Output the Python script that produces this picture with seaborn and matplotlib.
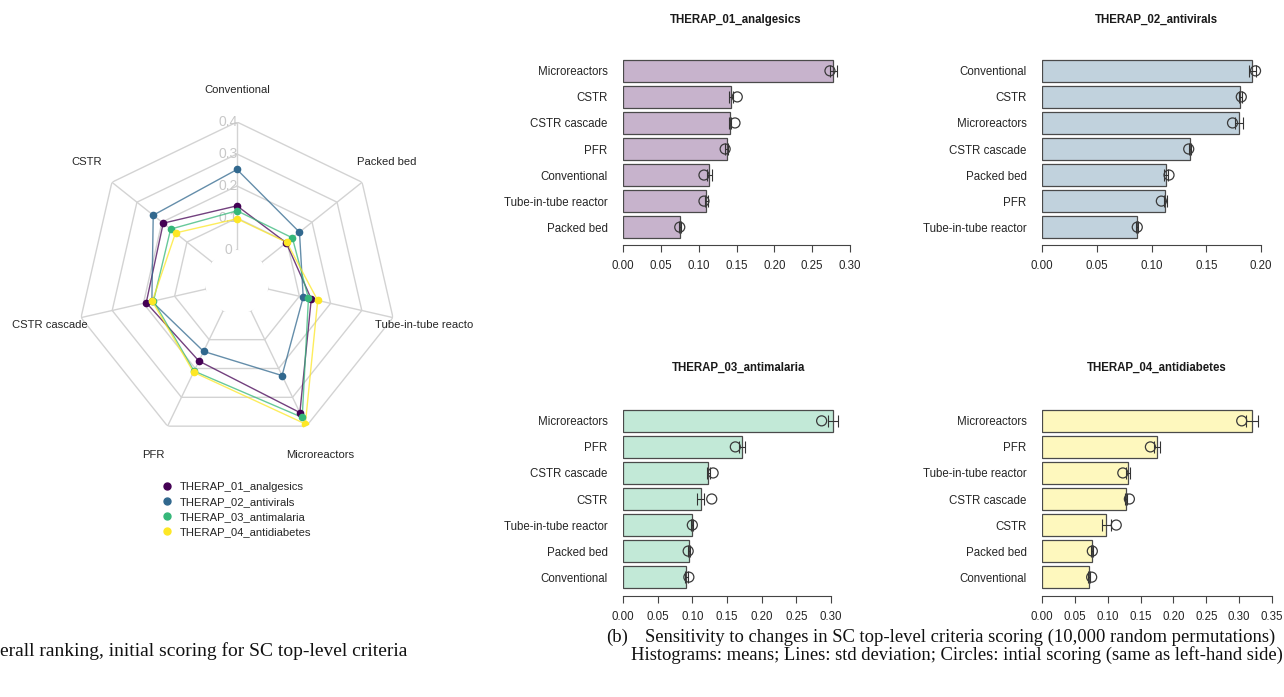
import numpy as np
import pandas as pd
import matplotlib
matplotlib.use("Agg")
import matplotlib.pyplot as plt
import seaborn as sns
from matplotlib.lines import Line2D
from matplotlib.transforms import offset_copy

sns.set_style("white")
plt.rcParams["font.family"] = ["Liberation Sans", "DejaVu Sans"]

# ---------------------------------------------------------------- data
reactors = ["Conventional", "CSTR", "CSTR cascade", "PFR",
            "Microreactors", "Tube-in-tube reactor", "Packed bed"]
radar_labels = ["Conventional", "CSTR", "CSTR cascade", "PFR",
                "Microreactors", "Tube-in-tube reacto", "Packed bed"]
therapies = ["THERAP_01_analgesics", "THERAP_02_antivirals",
             "THERAP_03_antimalaria", "THERAP_04_antidiabetes"]
ring_labels = ["0", "0.1", "0.2", "0.3", "0.4"]

# initial scoring (order of `reactors`)
init_analgesics = [0.107, 0.151, 0.148, 0.135, 0.2735, 0.107, 0.075]
init_antivirals = [0.195, 0.182, 0.134, 0.109, 0.174, 0.087, 0.116]
init_antimalaria = [0.095, 0.128, 0.130, 0.162, 0.2865, 0.100, 0.094]
init_antidiabetes = [0.0756, 0.113, 0.133, 0.165, 0.304, 0.123, 0.0766]

# sensitivity runs: mean and std deviation (order of `reactors`)
mean_analgesics = [0.114, 0.1425, 0.141, 0.137, 0.278, 0.110, 0.0754]
std_analgesics = [0.003, 0.0027, 0.0015, 0.002, 0.005, 0.002, 0.0012]
mean_antivirals = [0.192, 0.181, 0.135, 0.1125, 0.180, 0.0869, 0.1132]
std_antivirals = [0.003, 0.0015, 0.001, 0.0015, 0.0038, 0.001, 0.0017]
mean_antimalaria = [0.0915, 0.112, 0.123, 0.172, 0.303, 0.0997, 0.0953]
std_antimalaria = [0.002, 0.005, 0.0025, 0.0045, 0.0075, 0.001, 0.001]
mean_antidiabetes = [0.0715, 0.098, 0.128, 0.175, 0.3196, 0.131, 0.076]
std_antidiabetes = [0.0018, 0.0063, 0.002, 0.004, 0.0085, 0.0025, 0.001]

tick_max = [0.30, 0.20, 0.30, 0.35]

line_colors = ["#440154", "#31688E", "#35B779", "#FDE725"]
bar_colors = ["#C7B3CC", "#C1D2DD", "#C2E9D7", "#FEF8BE"]

inits = [init_analgesics, init_antivirals, init_antimalaria, init_antidiabetes]
means = [mean_analgesics, mean_antivirals, mean_antimalaria, mean_antidiabetes]
stds = [std_analgesics, std_antivirals, std_antimalaria, std_antidiabetes]

# ---------------------------------------------------------------- figure
W, H = 1284, 697
fig = plt.figure(figsize=(W / 100, H / 100), dpi=100)


def fx(px):
    return px / W


def fy(py):
    return 1 - py / H


# ---------------------------------------------------------------- radar
cx, cy, R = 237, 282, 160
rmax = 0.31
ax_r = fig.add_axes([fx(cx - R), fy(cy + R), 2 * R / W, 2 * R / H],
                    projection="polar")
ax_r.set_theta_zero_location("N")
ax_r.set_theta_direction(1)
ax_r.set_ylim(0, rmax)
ax_r.set_rorigin(-rmax / 4)
ax_r.axis("off")

n = len(reactors)
theta = np.arange(n) * 2 * np.pi / n
theta_c = np.append(theta, theta[0])
levels = np.linspace(0, rmax, 5)
grid_col = "#D3D3D3"
for lv in levels:
    ax_r.plot(theta_c, np.full(n + 1, lv), color=grid_col, lw=1.0, zorder=1)
for t in theta:
    ax_r.plot([t, t], [0, rmax], color=grid_col, lw=1.0, zorder=1)

lab_tr = offset_copy(ax_r.transData, fig=fig, x=-9, y=0, units="dots")
for lv, s in zip(levels, ring_labels):
    ax_r.text(0, lv, s, transform=lab_tr, ha="center", va="center",
              fontsize=10, color="#C8C8C8", zorder=2)

for vals, col in zip(inits, line_colors):
    v = np.append(vals, vals[0])
    ax_r.plot(theta_c, v, color=col, lw=1.0, alpha=0.75, zorder=3)
    ax_r.plot(theta, vals, "o", color=col, ms=4.5, zorder=4)

r_lab = -rmax / 4 + 1.2 * (rmax * 5 / 4)
for t, s in zip(theta, radar_labels):
    ax_r.text(t, r_lab, s, ha="center", va="center", fontsize=8.1,
              color="#262626", clip_on=False)

handles = [Line2D([], [], marker="o", ls="", color=c, ms=5) for c in line_colors]
fig.legend(handles, therapies, loc="upper left",
           bbox_to_anchor=(fx(162), fy(482)), frameon=False, fontsize=8.1,
           handlelength=0.9, handletextpad=0.65, labelspacing=0.45,
           borderpad=0, borderaxespad=0)

# ---------------------------------------------------------------- bar panels
# (x of zero, px per unit, top of first bar, axis line y, right edge, title y)
panels = [
    (623, 756.7, 60, 245, 870, 20),
    (1042, 1095.0, 60, 245, 1282, 20),
    (623, 693.3, 410, 596, 870, 368),
    (1042, 657.0, 410, 596, 1282, 368),
]
title_x = [736, 1156, 739, 1157]
row_px = 26.05
bar_px = 21.7

for i in range(4):
    x0, ppu, top, axis_y, right, ty = panels[i]
    df = pd.DataFrame({"reactor": reactors, "mean": means[i],
                       "std": stds[i], "init": inits[i]})
    df = df.sort_values("mean", ascending=False).reset_index(drop=True)
    order = list(df["reactor"])

    ax_top = top - 10
    ax = fig.add_axes([fx(x0), fy(axis_y), (right - x0) / W, (axis_y - ax_top) / H])
    sns.barplot(data=df, x="mean", y="reactor", order=order, orient="h",
                color=bar_colors[i], saturation=1, width=bar_px / row_px,
                edgecolor="#4A4A4A", linewidth=0.9, ax=ax, zorder=2)
    pos = np.arange(len(order))
    ax.errorbar(df["mean"], pos, xerr=df["std"], fmt="none", ecolor="#333333",
                elinewidth=0.8, capsize=4.6, capthick=0.8, zorder=3,
                clip_on=False)
    ax.scatter(df["init"], pos, s=52, facecolors="none", edgecolors="#3A3A3A",
               linewidths=0.9, zorder=4, clip_on=False)

    c0 = top + bar_px / 2
    ax.set_ylim((axis_y - c0) / row_px, (ax_top - c0) / row_px)
    ax.set_xlim(0, (right - x0) / ppu)
    ax.set_xlabel("")
    ax.set_ylabel("")
    ax.set_xticks(np.round(np.arange(0, tick_max[i] + 1e-9, 0.05), 2))
    ax.set_xticklabels([f"{t:.2f}" for t in ax.get_xticks()])
    for s in ["top", "right", "left"]:
        ax.spines[s].set_visible(False)
    ax.spines["bottom"].set_bounds(0, tick_max[i])
    ax.spines["bottom"].set_color("#444444")
    ax.spines["bottom"].set_linewidth(0.8)
    ax.tick_params(axis="x", direction="out", length=5, width=0.8,
                   color="#444444", labelsize=8.3, labelcolor="#262626", pad=6,
                   bottom=True)
    ax.tick_params(axis="y", length=0, labelsize=8.3, labelcolor="#262626",
                   pad=11)
    ax.patch.set_alpha(0)
    fig.text(fx(title_x[i]), fy(ty), therapies[i], ha="center", va="center",
             fontsize=8.3, fontweight="bold", color="#1A1A1A")

# ---------------------------------------------------------------- captions
serif = ["Liberation Serif", "DejaVu Serif"]
cap_kw = dict(ha="left", va="center", family=serif, color="#111111")
fig.text(fx(0), fy(651), "erall ranking, initial scoring for SC top-level criteria",
         fontsize=14, **cap_kw)
fig.text(fx(606), fy(637), "(b)", fontsize=13.4, **cap_kw)
fig.text(fx(645), fy(637),
         "Sensitivity to changes in SC top-level criteria scoring (10,000 random permutations)",
         fontsize=13.4, **cap_kw)
fig.text(fx(631), fy(655),
         "Histograms: means; Lines: std deviation; Circles: intial scoring (same as left-hand side)",
         fontsize=13.4, **cap_kw)

fig.savefig("out.png", dpi=100, facecolor="white")
